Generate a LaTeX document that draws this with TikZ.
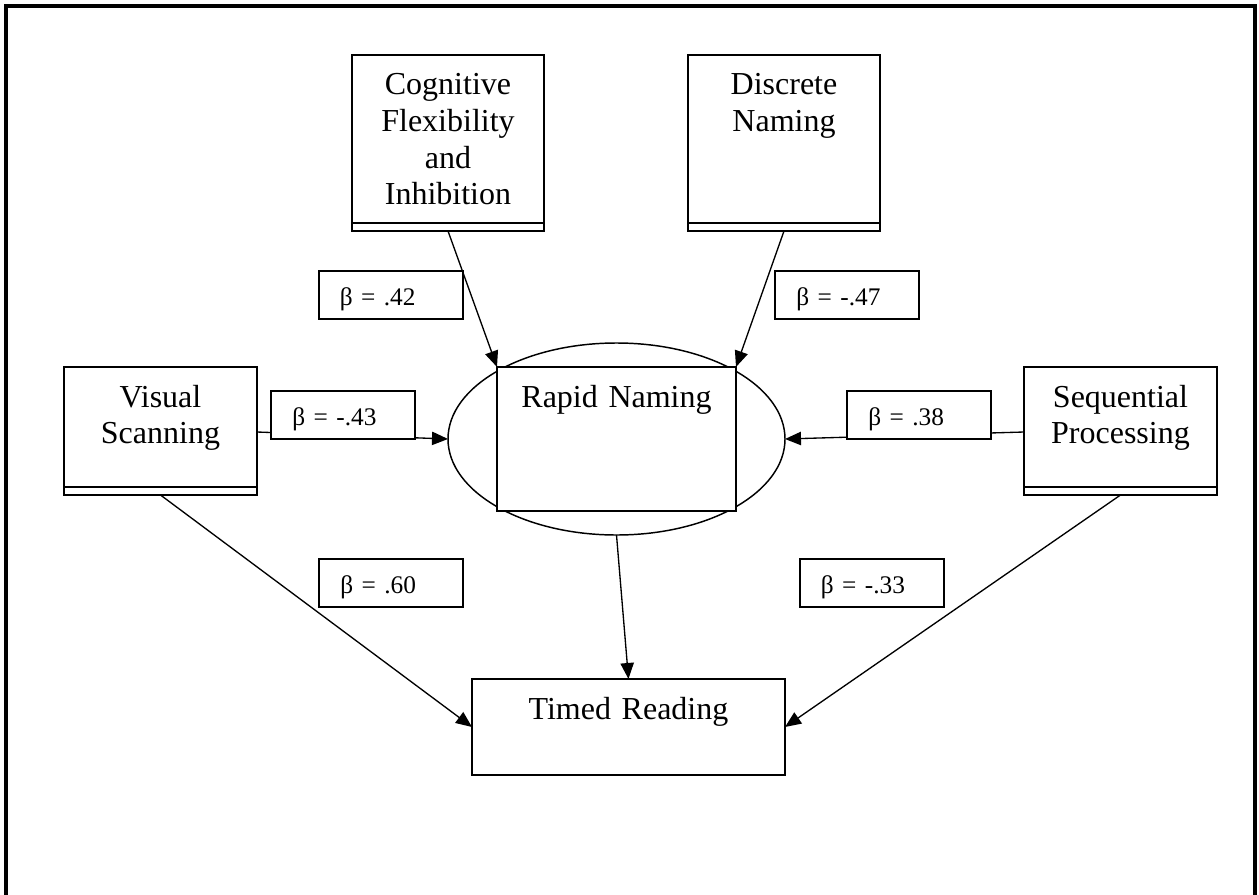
\documentclass[tikz,border=0pt]{standalone}
\usepackage{fontspec}
\setmainfont{Liberation Serif}
\usetikzlibrary{positioning,shapes.geometric,arrows.meta,backgrounds}

\begin{document}
\begin{tikzpicture}[x=0.75pt,y=-0.75pt,
    varbox/.style={draw,line width=1.5pt,inner sep=0,outer sep=0,align=center,
        font=\fontsize{24}{27.5}\selectfont,text height=30pt},
    stripbox/.style={draw,line width=1.5pt,inner sep=0,outer sep=0,minimum height=6pt},
    betabox/.style={draw,fill=white,line width=1.5pt,inner xsep=16pt,inner ysep=0,outer sep=0,
        text width=76pt,align=left,text height=26pt,text depth=10pt,
        font=\fontsize{19}{23}\selectfont},
    arr/.style={line width=1pt,-{Triangle[length=12pt,width=10pt]}}]
    \pgfmathsetmacro{\sidewidth}{144.5}
    \pgfmathsetmacro{\rapidwidth}{179.25}
    \pgfmathsetmacro{\timedwidth}{234.75}
    \useasboundingbox (0,0) rectangle (1259,895);
    % frame, open at the bottom
    \draw[line width=2.6pt] (6,895) -- (6,6) -- (1255,6) -- (1255,895);
    % predictors
    \node[varbox,text width=\sidewidth pt,text depth=96pt] (cog) at (448,139) {Cognitive\\Flexibility\\and\\Inhibition};
    \node[stripbox,minimum width=\sidewidth pt,below=0pt of cog] (cogs) {};
    \node[varbox,text width=\sidewidth pt,text depth=96pt] (dis) at (784,139) {Discrete\\Naming};
    \node[stripbox,minimum width=\sidewidth pt,below=0pt of dis] (diss) {};
    \node[varbox,text width=\sidewidth pt,text depth=60pt] (vis) at (160.5,427) {Visual\\Scanning};
    \node[stripbox,minimum width=\sidewidth pt,below=0pt of vis] (viss) {};
    \node[varbox,text width=\sidewidth pt,text depth=60pt] (seq) at (1120.5,427) {Sequential\\Processing};
    \node[stripbox,minimum width=\sidewidth pt,below=0pt of seq] (seqs) {};
    % rapid naming
    \node[ellipse,draw,line width=1.1pt,minimum width=252.75pt,minimum height=144pt,inner sep=0,outer sep=0] (ell) at (616.5,439) {};
    \node[varbox,fill=white,text width=\rapidwidth pt,text depth=78pt] (rn) at (616.5,439) {Rapid Naming};
    % outcome
    \node[varbox,text width=\timedwidth pt,text depth=42pt] (tr) at (628.5,727) {Timed Reading};
    % coefficients
    \node[betabox] (b42) at (390.5,294.5) {β = .42};
    \node[betabox] (b47) at (847,294.5) {β = -.47};
    \node[betabox] (b43) at (343,415) {β = -.43};
    \node[betabox] (b38) at (919,415) {β = .38};
    \node[betabox] (b60) at (391,583) {β = .60};
    \node[betabox] (b33) at (871.5,583) {β = -.33};
    \begin{scope}[on background layer]
        \draw[arr] (cogs.south) -- (rn.north west);
        \draw[arr] (diss.south) -- (rn.north east);
        \draw[arr] ([yshift=-3.75pt]vis.east) -- (ell.west);
        \draw[arr] ([yshift=-3.75pt]seq.west) -- (ell.east);
        \draw[arr] (viss.south) -- (tr.west);
        \draw[arr] (seqs.south) -- (tr.east);
        \draw[arr] (ell.south) -- (tr.north);
    \end{scope}
\end{tikzpicture}
\end{document}
